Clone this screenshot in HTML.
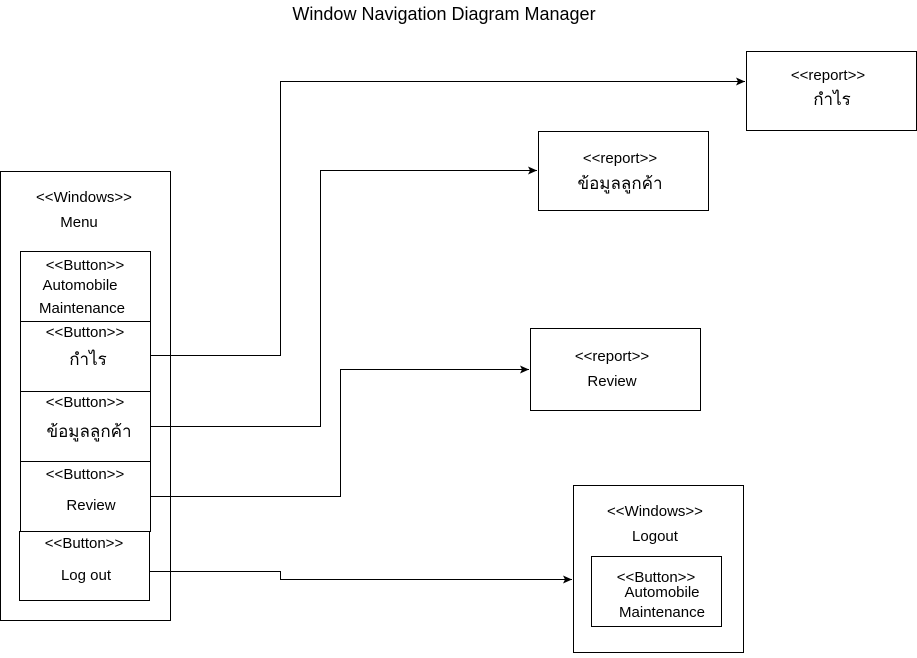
<!DOCTYPE html>
<html><head><meta charset="utf-8"><style>
html,body{margin:0;padding:0;background:#fff;}
svg text{font-family:"Liberation Sans","Noto Sans CJK SC",sans-serif;font-size:15px;fill:#000;}
svg text.th{font-size:17px;}
</style></head><body>
<svg width="917" height="653" xmlns="http://www.w3.org/2000/svg">
<defs><marker id="a" markerWidth="10" markerHeight="8" refX="9" refY="4" orient="auto" markerUnits="userSpaceOnUse"><path d="M0,0 L9,4 L0,8 L2,4 z" fill="#000"/></marker></defs>
<text x="444" y="20" text-anchor="middle" style="font-size:18px">Window Navigation Diagram Manager</text>
<g fill="none" stroke="#000" stroke-width="1">
<rect x="0.5" y="171.5" width="170" height="449"/>
<rect x="20.5" y="251.5" width="130" height="70"/>
<rect x="20.5" y="321.5" width="130" height="70"/>
<rect x="20.5" y="391.5" width="130" height="70"/>
<rect x="20.5" y="461.5" width="130" height="70"/>
<rect x="19.5" y="531.5" width="130" height="69"/>
<rect x="746.5" y="51.5" width="170" height="79"/>
<rect x="538.5" y="131.5" width="170" height="79"/>
<rect x="530.5" y="328.5" width="170" height="82"/>
<rect x="573.5" y="485.5" width="170" height="167"/>
<rect x="591.5" y="556.5" width="130" height="70"/>
<polyline points="150,355.5 280.5,355.5 280.5,81.5 745,81.5" marker-end="url(#a)"/>
<polyline points="150,426.5 320.5,426.5 320.5,170.5 537,170.5" marker-end="url(#a)"/>
<polyline points="150,496.5 340.5,496.5 340.5,369.5 529,369.5" marker-end="url(#a)"/>
<polyline points="150,571.5 280.5,571.5 280.5,579.5 572,579.5" marker-end="url(#a)"/>
</g>
<text x="84" y="202" text-anchor="middle">&lt;&lt;Windows&gt;&gt;</text>
<text x="79" y="227" text-anchor="middle">Menu</text>
<text x="85" y="270" text-anchor="middle">&lt;&lt;Button&gt;&gt;</text>
<text x="80" y="290" text-anchor="middle">Automobile</text>
<text x="82" y="313" text-anchor="middle">Maintenance</text>
<text x="85" y="337" text-anchor="middle">&lt;&lt;Button&gt;&gt;</text>
<text class="th" x="88" y="365" text-anchor="middle">กำไร</text>
<text x="85" y="407" text-anchor="middle">&lt;&lt;Button&gt;&gt;</text>
<text class="th" x="89" y="437" text-anchor="middle">ข้อมูลลูกค้า</text>
<text x="85" y="479" text-anchor="middle">&lt;&lt;Button&gt;&gt;</text>
<text x="91" y="510" text-anchor="middle">Review</text>
<text x="84" y="548" text-anchor="middle">&lt;&lt;Button&gt;&gt;</text>
<text x="86" y="580" text-anchor="middle">Log out</text>
<text x="828" y="80" text-anchor="middle">&lt;&lt;report&gt;&gt;</text>
<text class="th" x="832" y="105" text-anchor="middle">กำไร</text>
<text x="620" y="163" text-anchor="middle">&lt;&lt;report&gt;&gt;</text>
<text class="th" x="620" y="189" text-anchor="middle">ข้อมูลลูกค้า</text>
<text x="612" y="361" text-anchor="middle">&lt;&lt;report&gt;&gt;</text>
<text x="612" y="386" text-anchor="middle">Review</text>
<text x="655" y="516" text-anchor="middle">&lt;&lt;Windows&gt;&gt;</text>
<text x="655" y="541" text-anchor="middle">Logout</text>
<text x="656" y="582" text-anchor="middle">&lt;&lt;Button&gt;&gt;</text>
<text x="662" y="597" text-anchor="middle">Automobile</text>
<text x="662" y="617" text-anchor="middle">Maintenance</text>
</svg>
</body></html>
